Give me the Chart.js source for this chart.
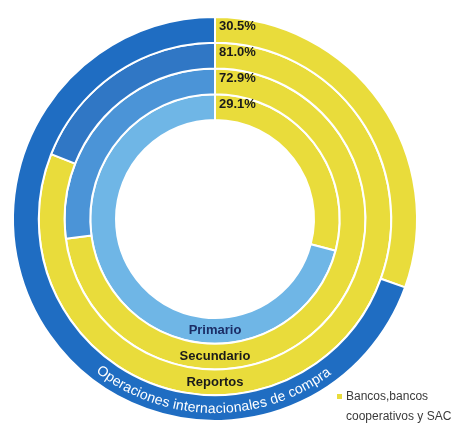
<!DOCTYPE html>
<html lang="es">
<head>
  <meta charset="UTF-8">
  <title>Participación por mercado</title>
  <script src="https://cdn.jsdelivr.net/npm/chart.js"></script>
  <style>
    body {
      margin: 0;
      background: white;
    }
    #wrap {
      width: 459px;
      height: 426px;
    }
  </style>
</head>
<body>
  <div id="wrap">
    <canvas id="ringChart" width="459" height="426"></canvas>
  </div>

  <script>
    // rings from outside to inside
    const rings = ['Operaciones internacionales de compra', 'Reportos', 'Secundario', 'Primario'];
    const bankShare = [30.5, 81.0, 72.9, 29.1];
    const otherShare = [69.5, 19.0, 27.1, 70.9];
    const pctLabels = ['30.5%', '81.0%', '72.9%', '29.1%'];
    const segmentNames = ['Bancos,bancos cooperativos y SAC', 'Otros'];

    const yellow = '#e9dc3b';
    const blues = ['#1f6dc2', '#3077c5', '#4b94d7', '#6fb6e6'];
    const ringTextColors = ['#ffffff', '#1a1a1a', '#1a1a1a', '#1b2d66'];

    function drawArcText(ctx, text, cx, cy, r, startDeg, endDeg) {
      const chars = [...text];
      const widths = chars.map(ch => ctx.measureText(ch).width);
      const total = widths.reduce((a, b) => a + b, 0);
      const span = (startDeg - endDeg) * Math.PI / 180;
      const k = span / total;
      let a = startDeg * Math.PI / 180;
      chars.forEach((ch, i) => {
        const mid = a - widths[i] * k / 2;
        ctx.save();
        ctx.translate(cx + r * Math.cos(mid), cy + r * Math.sin(mid));
        ctx.rotate(mid - Math.PI / 2);
        ctx.fillText(ch, 0, 0);
        ctx.restore();
        a -= widths[i] * k;
      });
    }

    const ringLabels = {
      id: 'ringLabels',
      afterDraw(chart) {
        const ctx = chart.ctx;
        ctx.save();
        ctx.textBaseline = 'middle';
        rings.forEach((name, i) => {
          const arc = chart.getDatasetMeta(i).data[0];
          const cx = arc.x, cy = arc.y;
          const mid = (arc.innerRadius + arc.outerRadius) / 2;

          // percentage at 12 o'clock
          ctx.fillStyle = '#1a1a1a';
          ctx.font = 'bold 13px "Liberation Sans", Arial, sans-serif';
          ctx.textAlign = 'left';
          ctx.fillText(pctLabels[i], cx + 4, cy - mid - 3);

          // ring name at 6 o'clock
          ctx.fillStyle = ringTextColors[i];
          ctx.textAlign = 'center';
          if (i === 0) {
            ctx.font = '14px "Liberation Sans", Arial, sans-serif';
            drawArcText(ctx, name, cx, cy, mid + 1, 128, 53);
          } else {
            ctx.font = 'bold 13px "Liberation Sans", Arial, sans-serif';
            ctx.fillText(name, cx, cy + mid);
          }
        });

        // legend
        ctx.fillStyle = yellow;
        ctx.fillRect(337, 394, 5, 5);
        ctx.fillStyle = '#3a3a3a';
        ctx.font = '12px "Liberation Sans", Arial, sans-serif';
        ctx.textAlign = 'left';
        ctx.fillText('Bancos,bancos', 346, 397);
        ctx.fillText('cooperativos y SAC', 346, 417);
        ctx.restore();
      }
    };

    new Chart(document.getElementById('ringChart'), {
      type: 'doughnut',
      data: {
        labels: segmentNames,
        datasets: rings.map((name, i) => ({
          label: name,
          data: [bankShare[i], otherShare[i]],
          backgroundColor: [yellow, blues[i]],
          borderColor: '#ffffff',
          borderWidth: 2
        }))
      },
      options: {
        responsive: false,
        animation: false,
        cutout: '49%',
        layout: {
          padding: { left: 12, right: 41, top: 16, bottom: 4 }
        },
        plugins: {
          legend: { display: false },
          tooltip: { enabled: false }
        }
      },
      plugins: [ringLabels]
    });
  </script>
</body>
</html>
